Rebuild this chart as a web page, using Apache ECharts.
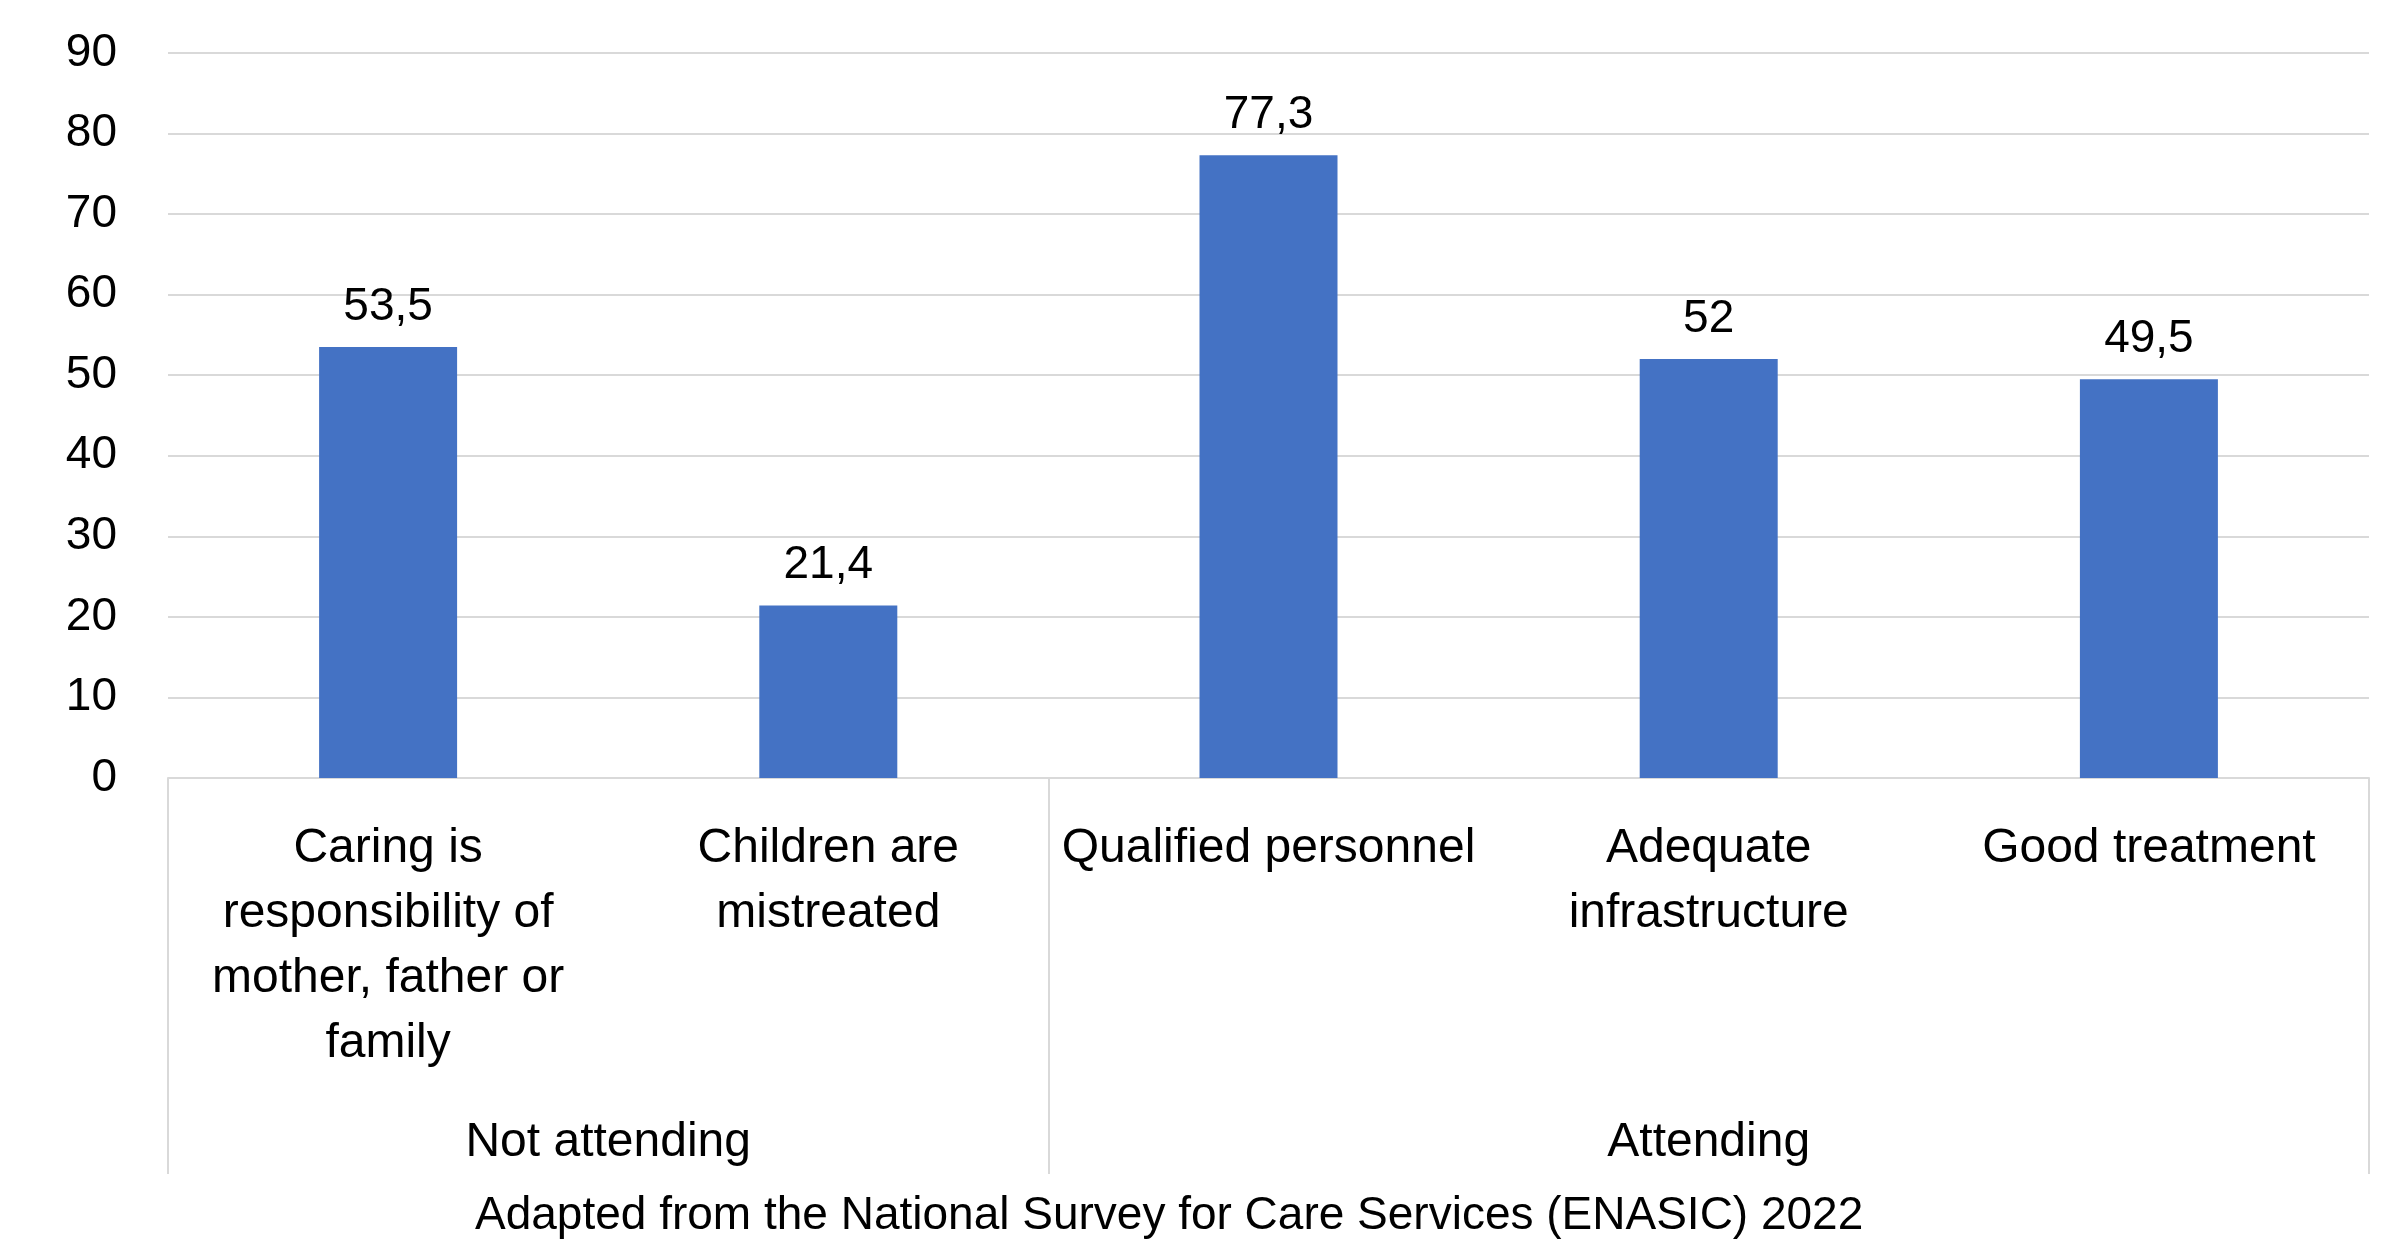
<!DOCTYPE html>
<html>
<head>
<meta charset="utf-8">
<script src="https://cdn.jsdelivr.net/npm/echarts@6/dist/echarts.min.js"></script>
<style>
  html, body { margin: 0; padding: 0; background: #fff; }
  #chart { width: 2383px; height: 1251px; }
</style>
</head>
<body>
<div id="chart"></div>
<script>
// chart values
const categories = [
  'Caring is\nresponsibility of\nmother, father or\nfamily',
  'Children are\nmistreated',
  'Qualified personnel',
  'Adequate\ninfrastructure',
  'Good treatment'
];
const groups = ['Not attending', 'Attending'];
const groupSizes = [2, 3];
const values = [53.5, 21.4, 77.3, 52, 49.5];
const yTicks = { min: 0, max: 90, interval: 10 };
const sourceNote = 'Adapted from the National Survey for Care Services (ENASIC) 2022';

const font = "'Liberation Sans', Arial, sans-serif";
const lineColor = '#d9d9d9';

// plot box
const W = 2383, H = 1251;
const plotLeft = 168, plotRight = 14, plotTop = 53, plotBottom = 473;
const bandW = (W - plotLeft - plotRight) / categories.length;

// one extra grid per group so the bottom band can have uneven spans
const grids = [{ left: plotLeft, right: plotRight, top: plotTop, bottom: plotBottom }];
const xAxes = [{
  type: 'category',
  gridIndex: 0,
  data: categories,
  axisLine: { show: true, lineStyle: { color: lineColor, width: 2 } },
  axisTick: { show: false },
  axisLabel: {
    interval: 0,
    margin: 38,
    color: '#000',
    fontFamily: font,
    fontSize: 48,
    lineHeight: 65
  }
}];
const yAxes = [{
  type: 'value',
  gridIndex: 0,
  min: yTicks.min,
  max: yTicks.max,
  interval: yTicks.interval,
  axisLine: { show: false },
  axisTick: { show: false },
  splitLine: { lineStyle: { color: lineColor, width: 2 } },
  axisLabel: { margin: 51, color: '#000', fontFamily: font, fontSize: 46 }
}];

let start = 0;
groups.forEach((g, i) => {
  const left = plotLeft + start * bandW;
  const width = groupSizes[i] * bandW;
  start += groupSizes[i];
  grids.push({ left: left, width: width, top: plotTop, bottom: plotBottom });
  xAxes.push({
    type: 'category',
    gridIndex: i + 1,
    data: [g],
    axisLine: { show: false },
    axisTick: { show: true, length: 396, lineStyle: { color: lineColor, width: 2 } },
    axisLabel: {
      interval: 0,
      margin: 337,
      color: '#000',
      fontFamily: font,
      fontSize: 48,
      lineHeight: 55
    }
  });
  yAxes.push({ type: 'value', gridIndex: i + 1, show: false, splitLine: { show: false } });
});

const chart = echarts.init(document.getElementById('chart'));
chart.setOption({
  animation: false,
  grid: grids,
  xAxis: xAxes,
  yAxis: yAxes,
  graphic: [
    {
      type: 'text',
      left: 1175 - 700,
      top: 1218 - 25,
      style: {
        text: sourceNote,
        fill: '#000',
        font: '46px ' + font,
        width: 1400,
        align: 'center'
      }
    }
  ],
  series: [
    {
      type: 'bar',
      xAxisIndex: 0,
      yAxisIndex: 0,
      data: values,
      barWidth: 138,
      itemStyle: { color: '#4472c4' },
      label: {
        show: true,
        position: 'top',
        distance: 17,
        color: '#000',
        fontFamily: font,
        fontSize: 46,
        lineHeight: 46,
        formatter: p => String(p.value).replace('.', ',')
      }
    }
  ]
});
</script>
</body>
</html>
